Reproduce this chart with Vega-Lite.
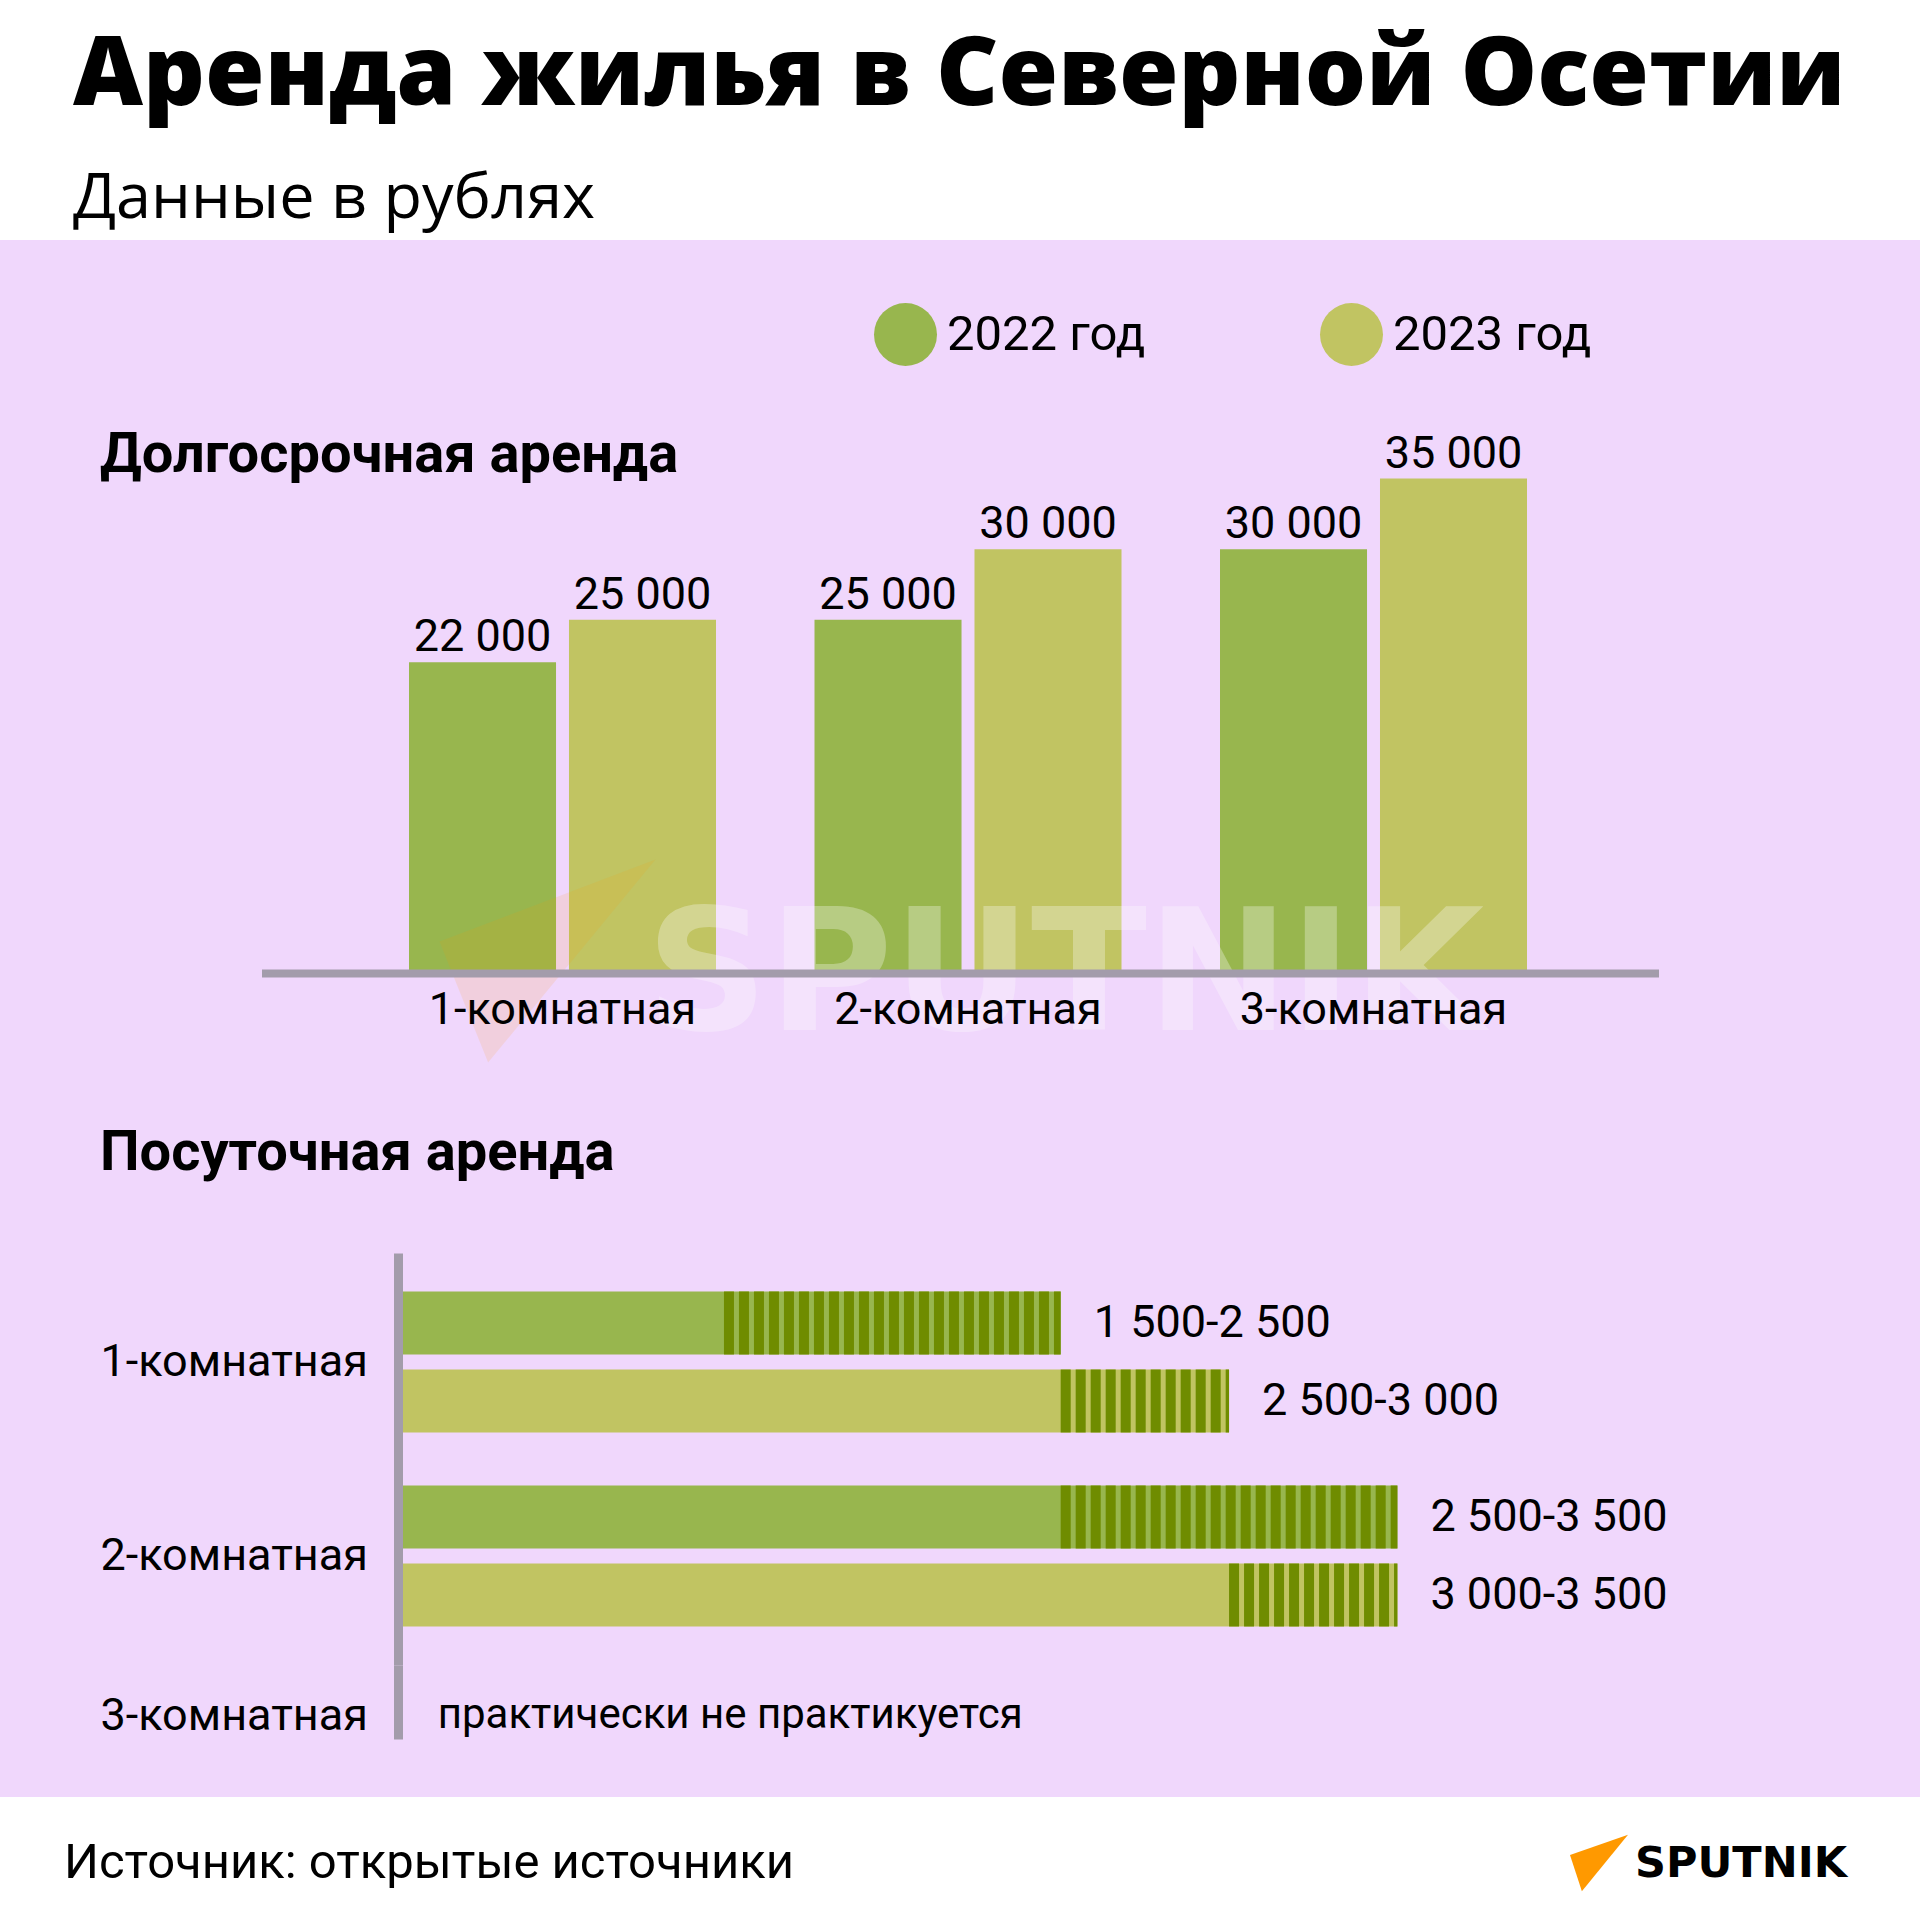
{
  "$schema": "https://vega.github.io/schema/vega-lite/v6.json",
  "background": "#f0d7fc",
  "padding": 0,
  "spacing": 0,
  "bounds": "flush",
  "center": true,
  "config": {
    "view": {"stroke": null},
    "font": "Roboto",
    "locale": {"number": {"decimal": ",", "thousands": " ", "grouping": [3], "currency": ["", " ₽"]}},
    "axis": {"grid": false, "labelLimit": 0},
    "legend": {"labelLimit": 0}
  },
  "resolve": {
    "scale": {"x": "independent", "y": "independent", "color": "independent"},
    "legend": {"color": "independent"}
  },
  "vconcat": [
    {
      "width": 1920,
      "height": 240,
      "view": {"fill": "white", "stroke": null},
      "title": {
        "text": "Аренда жилья в Северной Осетии",
        "subtitle": "Данные в рублях",
        "anchor": "start",
        "frame": "group",
        "dx": 73,
        "offset": -232,
        "font": "Open Sans",
        "fontSize": 96.5,
        "fontWeight": 800,
        "color": "black",
        "limit": 0,
        "subtitleFont": "Open Sans",
        "subtitleFontSize": 63,
        "subtitleFontWeight": "normal",
        "subtitleColor": "black",
        "subtitlePadding": 43
      },
      "data": {"values": [{"blank": ""}]},
      "mark": {"type": "point", "opacity": 0}
    },
    {
      "width": 1397,
      "height": 1013,
      "title": {
        "text": "Долгосрочная аренда",
        "anchor": "start",
        "frame": "group",
        "dx": -161.5,
        "offset": -244,
        "font": "Roboto",
        "fontSize": 56,
        "fontWeight": "bold",
        "color": "black"
      },
      "data": {
        "values": [
          {"room": "1-комнатная", "year": "2022", "value": 22000},
          {"room": "1-комнатная", "year": "2023", "value": 25000},
          {"room": "2-комнатная", "year": "2022", "value": 25000},
          {"room": "2-комнатная", "year": "2023", "value": 30000},
          {"room": "3-комнатная", "year": "2022", "value": 30000},
          {"room": "3-комнатная", "year": "2023", "value": 35000}
        ]
      },
      "layer": [
        {
          "mark": {"type": "bar"},
          "encoding": {
            "x": {
              "field": "room",
              "type": "nominal",
              "sort": null,
              "scale": {"domain": ["1-комнатная", "2-комнатная", "3-комнатная"], "paddingInner": 0.2429, "paddingOuter": 0.344, "align": 0.5287},
              "axis": {
                "title": null,
                "orient": "bottom",
                "offset": -280,
                "domainColor": "#a39cab",
                "domainWidth": 8,
                "ticks": false,
                "tickSize": 0,
                "labelAngle": 0,
                "labelFont": "Roboto",
                "labelFontSize": 45,
                "labelColor": "black",
                "labelPadding": 14,
                "labelLimit": 0,
                "zindex": 1
              }
            },
            "y": {
              "field": "value",
              "type": "quantitative",
              "scale": {"domain": [0, 51890], "range": [733, 0], "nice": false, "zero": false},
              "axis": null
            },
            "xOffset": {"field": "year", "type": "nominal", "scale": {"paddingInner": 0.081, "paddingOuter": 0}},
            "color": {
              "field": "year",
              "type": "nominal",
              "scale": {"domain": ["2022", "2023"], "range": ["#98b64e", "#c1c462"]},
              "legend": {
                "orient": "none",
                "legendX": 612.5,
                "legendY": 63,
                "direction": "horizontal",
                "title": null,
                "padding": 0,
                "symbolType": "circle",
                "symbolSize": 3969,
                "symbolStrokeWidth": 0,
                "symbolOpacity": 1,
                "labelFont": "Roboto",
                "labelFontSize": 49,
                "labelColor": "black",
                "labelOffset": 10,
                "labelLimit": 0,
                "columnPadding": 174,
                "labelExpr": "datum.label + ' год'"
              }
            }
          }
        },
        {
          "mark": {"type": "text", "dy": -11, "fontSize": 45, "baseline": "alphabetic", "color": "black", "font": "Roboto"},
          "encoding": {
            "x": {"field": "room", "type": "nominal", "sort": null},
            "y": {"field": "value", "type": "quantitative"},
            "xOffset": {"field": "year", "type": "nominal", "scale": {"paddingInner": 0.081, "paddingOuter": 0}},
            "text": {"field": "value", "type": "quantitative", "format": ","}
          }
        },
        {
          "data": {"values": [{"room": "2-комнатная", "level": 0, "wm": "SPUTNIK"}]},
          "mark": {"type": "text", "font": "DejaVu Sans", "fontWeight": "bold", "fontSize": 170, "fill": "#ffffff", "opacity": 0.3, "dx": 97, "dy": 57, "baseline": "alphabetic", "align": "center"},
          "encoding": {
            "x": {"field": "room", "type": "nominal", "sort": null},
            "y": {"field": "level", "type": "quantitative"},
            "text": {"field": "wm"}
          }
        },
        {
          "data": {"values": [{"room": "1-комнатная", "level": 0}]},
          "mark": {"type": "point", "shape": "M-1,-0.18L1,-0.94L-0.55,0.94Z", "size": 46656, "filled": true, "fill": "#ff9900", "opacity": 0.12, "strokeWidth": 0, "xOffset": -15, "yOffset": -12},
          "encoding": {
            "x": {"field": "room", "type": "nominal", "sort": null},
            "y": {"field": "level", "type": "quantitative"}
          }
        }
      ]
    },
    {
      "width": 1124,
      "height": 412,
      "title": {
        "text": "Посуточная аренда",
        "anchor": "start",
        "frame": "group",
        "dx": -298,
        "offset": 71,
        "font": "Roboto",
        "fontSize": 56,
        "fontWeight": "bold",
        "color": "black"
      },
      "data": {
        "values": [
          {"room": "1-комнатная", "year": "2022", "low": 1500, "high": 2500, "range": "1 500-2 500"},
          {"room": "1-комнатная", "year": "2023", "low": 2500, "high": 3000, "range": "2 500-3 000"},
          {"room": "2-комнатная", "year": "2022", "low": 2500, "high": 3500, "range": "2 500-3 500"},
          {"room": "2-комнатная", "year": "2023", "low": 3000, "high": 3500, "range": "3 000-3 500"}
        ]
      },
      "encoding": {
        "y": {
          "field": "room",
          "type": "nominal",
          "sort": null,
          "scale": {"domain": ["1-комнатная", "2-комнатная"], "paddingInner": 0.273, "paddingOuter": 0.198},
          "axis": {
            "title": null,
            "orient": "left",
            "ticks": false,
            "tickSize": 0,
            "labelAlign": "left",
            "labelBaseline": "middle",
            "labelPadding": 298,
            "labelFont": "Roboto",
            "labelFontSize": 45,
            "labelColor": "black",
            "labelLimit": 0,
            "domainColor": "#a39cab",
            "domainWidth": 9,
            "zindex": 1
          }
        },
        "yOffset": {"field": "year", "type": "nominal", "scale": {"domain": ["2022", "2023"], "paddingInner": 0.192, "paddingOuter": 0}}
      },
      "layer": [
        {
          "mark": {"type": "bar"},
          "encoding": {
            "x": {"field": "high", "type": "quantitative", "scale": {"domain": [532, 3870], "nice": false}, "axis": null},
            "x2": {"datum": 532},
            "color": {
              "field": "year",
              "type": "nominal",
              "scale": {"domain": ["2022", "2023"], "range": ["#98b64e", "#c1c462"]},
              "legend": null
            }
          }
        },
        {
          "mark": {"type": "rule", "strokeDash": [10, 5], "strokeWidth": 63, "color": "#6f8c00", "strokeCap": "butt"},
          "encoding": {
            "x": {"field": "low", "type": "quantitative"},
            "x2": {"field": "high"}
          }
        },
        {
          "mark": {"type": "text", "align": "left", "dx": 33, "fontSize": 45, "color": "black", "baseline": "middle", "font": "Roboto"},
          "encoding": {
            "x": {"field": "high", "type": "quantitative"},
            "text": {"field": "range"}
          }
        }
      ]
    },
    {
      "width": 1124,
      "height": 74,
      "data": {"values": [{"room": "3-комнатная", "note": "практически не практикуется"}]},
      "mark": {"type": "text", "align": "left", "fontSize": 42, "color": "black", "baseline": "middle", "font": "Roboto"},
      "encoding": {
        "y": {
          "field": "room",
          "type": "nominal",
          "scale": {"type": "point", "padding": 0.5, "align": 0.676},
          "axis": {
            "title": null,
            "orient": "left",
            "ticks": false,
            "tickSize": 0,
            "labelAlign": "left",
            "labelBaseline": "middle",
            "labelPadding": 298,
            "labelFont": "Roboto",
            "labelFontSize": 45,
            "labelColor": "black",
            "labelLimit": 0,
            "domainColor": "#a39cab",
            "domainWidth": 9,
            "zindex": 1
          }
        },
        "x": {"datum": 650, "type": "quantitative", "scale": {"domain": [532, 3870], "nice": false}, "axis": null},
        "text": {"field": "note"}
      }
    },
    {
      "width": 1920,
      "height": 58,
      "data": {"values": [{"blank": ""}]},
      "mark": {"type": "point", "opacity": 0}
    },
    {
      "width": 1920,
      "height": 124,
      "view": {"fill": "white", "stroke": null},
      "data": {
        "values": [
          {"part": "source", "label": "Источник: открытые источники"},
          {"part": "logo", "label": "SPUTNIK"}
        ]
      },
      "encoding": {
        "x": {"field": "part", "type": "nominal", "scale": {"type": "point", "domain": ["source", "logo"], "padding": 0}, "axis": null}
      },
      "layer": [
        {
          "transform": [{"filter": "datum.part == 'source'"}],
          "mark": {"type": "text", "align": "left", "dx": 64, "dy": 4, "fontSize": 49, "color": "black", "font": "Roboto"},
          "encoding": {"text": {"field": "label"}}
        },
        {
          "transform": [{"filter": "datum.part == 'logo'"}],
          "mark": {"type": "text", "align": "right", "dx": -73, "dy": 5, "fontSize": 43, "fontWeight": "bold", "color": "black", "font": "DejaVu Sans"},
          "encoding": {"text": {"field": "label"}}
        },
        {
          "transform": [{"filter": "datum.part == 'logo'"}],
          "mark": {"type": "point", "shape": "M1,-0.97L-1,-0.28L-0.59,0.97Z", "size": 3364, "filled": true, "color": "#ff9900", "opacity": 1, "strokeWidth": 0, "xOffset": -321, "yOffset": 4}
        }
      ]
    }
  ]
}
